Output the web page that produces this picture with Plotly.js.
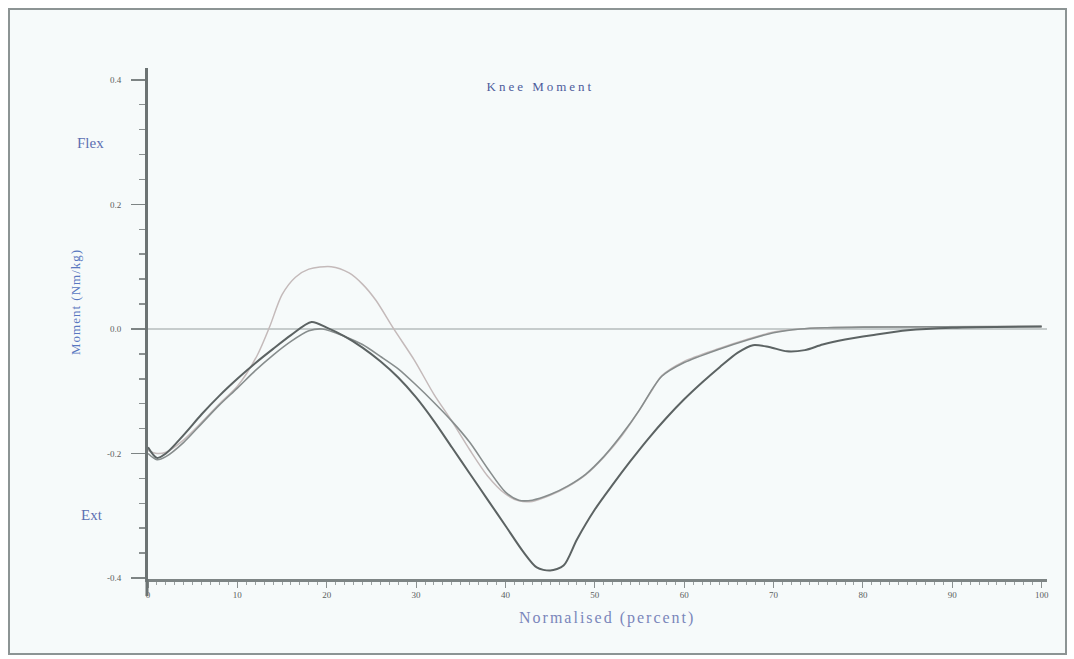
<!DOCTYPE html>
<html>
<head>
<meta charset="utf-8">
<script src="https://cdn.plot.ly/plotly-3.0.1.min.js"></script>
<style>
  html, body { margin: 0; padding: 0; background: #ffffff; }
  #chart { width: 1074px; height: 659px; }
  /* wide letter spacing for the chart title and the axis captions */
  g.annotation[data-index="0"] text { letter-spacing: 3px; }
  g.annotation[data-index="4"] text { letter-spacing: 2px; }
  g.annotation[data-index="3"] text { letter-spacing: 1px; }
</style>
</head>
<body>
<div id="chart"></div>
<script>
// Knee moment over the normalised cycle (Nm/kg), three trials
const darkX = [0, 1, 2, 4, 6, 8, 10, 12, 14, 16, 18.3, 20, 22, 24, 26, 28, 30, 32, 34, 36, 38, 40, 42, 43.5, 45, 46.5, 48, 50, 52, 54, 56, 58, 60, 62, 64, 66, 67.7, 69.5, 71.5, 73.5, 75.5, 78, 81, 85, 90, 100];
const darkY = [-0.19, -0.207, -0.2, -0.17, -0.137, -0.107, -0.08, -0.055, -0.032, -0.01, 0.011, 0.002, -0.012, -0.03, -0.052, -0.078, -0.11, -0.148, -0.19, -0.232, -0.274, -0.316, -0.358, -0.383, -0.388, -0.38, -0.338, -0.29, -0.25, -0.212, -0.176, -0.143, -0.113, -0.086, -0.061, -0.038, -0.026, -0.029, -0.036, -0.034, -0.025, -0.017, -0.01, -0.002, 0.002, 0.004];

const midX = [0, 1, 2, 4, 6, 8, 10, 12, 14, 16, 18, 19.5, 22, 24, 26, 28, 30, 32, 34, 36, 38, 40, 41.5, 43, 45, 47, 49, 51, 53, 55, 56.5, 57.5, 60, 64, 67, 70, 73, 76, 80, 100];
const midY = [-0.2, -0.21, -0.205, -0.182, -0.152, -0.122, -0.095, -0.067, -0.042, -0.02, -0.003, 0.0, -0.012, -0.025, -0.044, -0.064, -0.09, -0.118, -0.148, -0.182, -0.224, -0.262, -0.275, -0.275, -0.266, -0.252, -0.233, -0.205, -0.17, -0.13, -0.095, -0.076, -0.054, -0.032, -0.018, -0.006, 0.0, 0.002, 0.003, 0.004];

const lightX = [0, 1, 2, 4, 6, 8, 10, 12.2, 13.6, 15, 16.5, 18, 20.5, 22.5, 24, 25.5, 27.5, 29.8, 32, 34, 36, 38, 40, 41.5, 43, 45, 47, 49, 51, 53, 55, 56.5, 57.5, 60, 64, 67, 70, 73, 76, 80, 100];
const lightY = [-0.195, -0.2, -0.198, -0.178, -0.15, -0.12, -0.092, -0.043, 0.003, 0.055, 0.083, 0.096, 0.1, 0.09, 0.072, 0.046, 0.0, -0.05, -0.105, -0.148, -0.194, -0.236, -0.265, -0.276, -0.277, -0.267, -0.253, -0.234, -0.206, -0.172, -0.13, -0.096, -0.075, -0.052, -0.031, -0.017, -0.005, 0.0, 0.002, 0.003, 0.004];

const xTickVals = [0, 10, 20, 30, 40, 50, 60, 70, 80, 90, 100];
const xTickText = ['0', '10', '20', '30', '40', '50', '60', '70', '80', '90', '100'];
const yTickVals = [-0.4, -0.2, 0.0, 0.2, 0.4];
const yTickText = ['-0.4', '-0.2', '0.0', '0.2', '0.4'];

const serif = 'Liberation Serif, Times New Roman, serif';

// plot area in pixels, used to place the outer frame and side labels
const L = 148, T = 68, W = 899, H = 511;
const px = v => (v - L) / W;
const py = v => (T + H - v) / H;

const traces = [
  { x: lightX, y: lightY, mode: 'lines', line: { color: '#c4baba', width: 1.5, shape: 'spline', smoothing: 0.8 }, hoverinfo: 'skip' },
  { x: midX, y: midY, mode: 'lines', line: { color: '#878d8d', width: 1.6, shape: 'spline', smoothing: 0.8 }, hoverinfo: 'skip' },
  { x: darkX, y: darkY, mode: 'lines', line: { color: '#5c6363', width: 2, shape: 'spline', smoothing: 0.8 }, hoverinfo: 'skip' }
];

const label = (text, x, y, size, color, extra) => Object.assign({
  text: text, xref: 'paper', yref: 'paper', x: px(x), y: py(y), showarrow: false,
  xanchor: 'center', yanchor: 'middle',
  font: { family: serif, size: size, color: color }
}, extra || {});

const layout = {
  width: 1074,
  height: 659,
  margin: { l: L, r: 1074 - L - W, t: T, b: 659 - T - H },
  paper_bgcolor: '#ffffff',
  plot_bgcolor: '#f6fafa',
  showlegend: false,
  font: { family: serif, color: '#5a6060' },
  xaxis: {
    range: [0, 100.6],
    tickvals: xTickVals,
    ticktext: xTickText,
    ticks: 'outside',
    ticklen: 6,
    tickwidth: 1,
    tickcolor: '#8a9090',
    tickfont: { family: serif, size: 9, color: '#5a6060' },
    showline: true,
    linecolor: '#7d8484',
    linewidth: 2.5,
    showgrid: false,
    zeroline: false,
    minor: { dtick: 1, ticks: 'outside', ticklen: 3, tickcolor: '#9aa0a0', showgrid: false },
    fixedrange: true
  },
  yaxis: {
    range: [-0.4015, 0.419],
    tickvals: yTickVals,
    ticktext: yTickText,
    ticks: 'outside',
    ticklen: 14,
    tickwidth: 1.5,
    tickcolor: '#7d8484',
    ticklabelstandoff: 8,
    tickfont: { family: serif, size: 9, color: '#5a6060' },
    showline: true,
    linecolor: '#6c7373',
    linewidth: 3,
    showgrid: false,
    zeroline: true,
    zerolinecolor: '#c6cccc',
    zerolinewidth: 1.5,
    minor: { dtick: 0.04, ticks: 'outside', ticklen: 6, tickcolor: '#8a9090', showgrid: false },
    fixedrange: true
  },
  shapes: [
    { type: 'rect', xref: 'paper', yref: 'paper', layer: 'below',
      x0: px(9), x1: px(1066), y0: py(654), y1: py(9),
      fillcolor: '#f6fafa', line: { color: '#8c9494', width: 2 } },
    // the vertical axis runs on a little past the horizontal one
    { type: 'line', xref: 'paper', yref: 'paper', layer: 'above',
      x0: px(147), x1: px(147), y0: py(579), y1: py(596),
      line: { color: '#6c7373', width: 3 } }
  ],
  annotations: [
    label('Knee Moment', 540, 86, 13, '#4d5c9c'),
    label('Flex', 90, 143, 15, '#5d70b2'),
    label('Ext', 92, 515, 15, '#5d70b2'),
    label('Moment (Nm/kg)', 75, 302, 13, '#5a78c0', { textangle: -90 }),
    label('Normalised (percent)', 607, 618, 16, '#7a86ba')
  ]
};

Plotly.newPlot('chart', traces, layout, { displayModeBar: false, staticPlot: true });
</script>
</body>
</html>
